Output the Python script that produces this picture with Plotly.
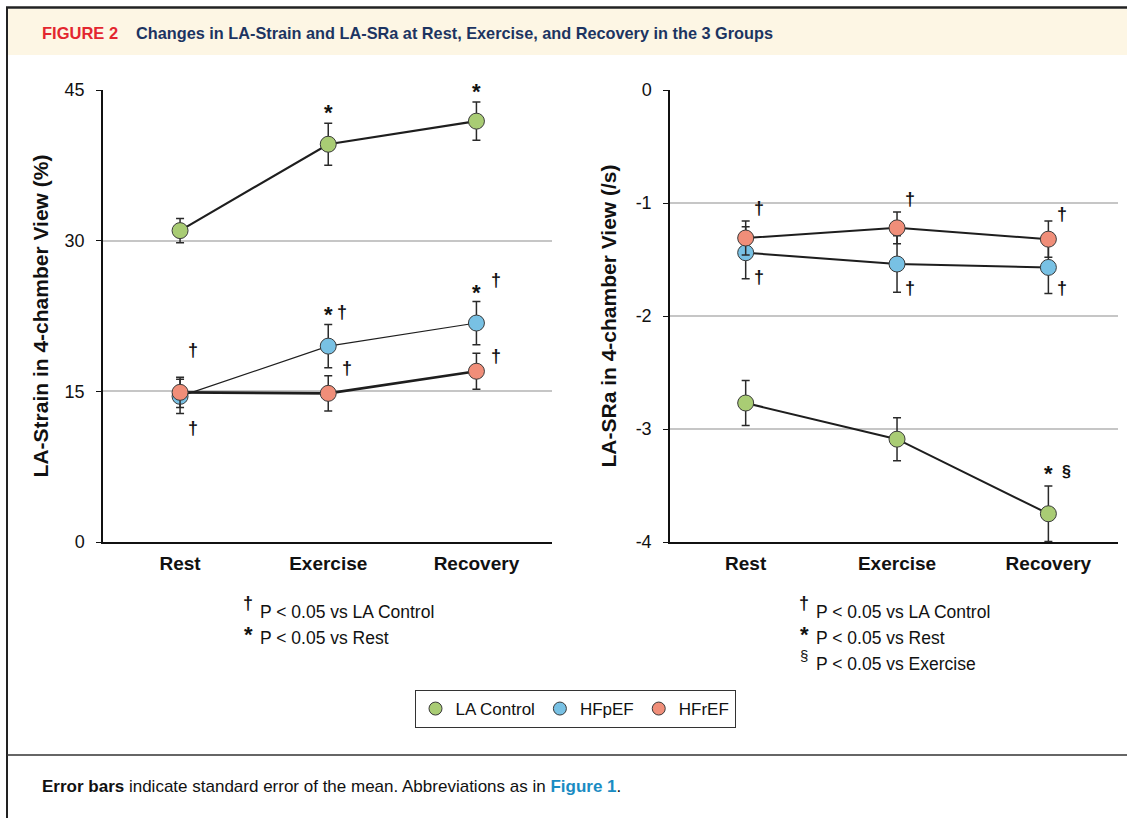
import plotly.graph_objects as go

W, H = 1127, 818

# ---------------- data ----------------
phases = ["Rest", "Exercise", "Recovery"]
groups = ["LA Control", "HFpEF", "HFrEF"]

la_strain_mean = [31.0, 39.6, 41.9]
la_strain_sem = [1.2, 2.1, 1.9]
hfpef_strain_mean = [14.5, 19.5, 21.8]
hfpef_strain_sem = [1.7, 2.15, 2.15]
hfref_strain_mean = [14.9, 14.8, 17.0]
hfref_strain_sem = [1.5, 1.75, 1.8]

la_sra_mean = [-2.77, -3.09, -3.75]
la_sra_sem = [0.20, 0.19, 0.245]
hfpef_sra_mean = [-1.44, -1.54, -1.57]
hfpef_sra_sem = [0.23, 0.25, 0.23]
hfref_sra_mean = [-1.31, -1.22, -1.32]
hfref_sra_sem = [0.15, 0.14, 0.16]

strain_ticks = [0, 15, 30, 45]
sra_ticks = [0, -1, -2, -3, -4]
sra_tick_text = ["0", "-1", "-2", "-3", "-4"]

# significance symbols: (panel, group, phase, symbol)
sig_symbols = [
    ("strain", "LA Control", "Exercise", "*"),
    ("strain", "LA Control", "Recovery", "*"),
    ("strain", "HFrEF", "Rest", "†"),
    ("strain", "HFpEF", "Rest", "†"),
    ("strain", "HFpEF", "Exercise", "*"),
    ("strain", "HFpEF", "Exercise", "†"),
    ("strain", "HFrEF", "Exercise", "†"),
    ("strain", "HFpEF", "Recovery", "*"),
    ("strain", "HFpEF", "Recovery", "†"),
    ("strain", "HFrEF", "Recovery", "†"),
    ("sra", "HFrEF", "Rest", "†"),
    ("sra", "HFpEF", "Rest", "†"),
    ("sra", "HFrEF", "Exercise", "†"),
    ("sra", "HFpEF", "Exercise", "†"),
    ("sra", "HFrEF", "Recovery", "†"),
    ("sra", "HFpEF", "Recovery", "†"),
    ("sra", "LA Control", "Recovery", "*"),
    ("sra", "LA Control", "Recovery", "§"),
]
# placement of each symbol: (anchor at error-bar end "top"/"bottom", xshift px, yshift px)
sig_place = [
    ("top", 0, 11), ("top", 0, 11), ("top", 13, 27), ("bottom", 13, -15),
    ("top", 0, 10), ("top", 14, 13), ("top", 19, 8), ("top", 0, 9),
    ("top", 20, 21), ("top", 20, -3),
    ("top", 13, 13), ("bottom", 13, 2), ("top", 13, 13), ("bottom", 13, 4),
    ("top", 14, 7), ("bottom", 14, 5), ("top", 0, 13), ("top", 18, 15),
]

footnotes_left = [("†", "P < 0.05 vs LA Control"), ("*", "P < 0.05 vs Rest")]
footnotes_right = [("†", "P < 0.05 vs LA Control"), ("*", "P < 0.05 vs Rest"),
                   ("§", "P < 0.05 vs Exercise")]

fig_label = "FIGURE 2"
fig_title = "Changes in LA-Strain and LA-SRa at Rest, Exercise, and Recovery in the 3 Groups"

# ---------------- styling ----------------
FONT = "Liberation Sans, Arial, Helvetica, sans-serif"
colors = {"LA Control": "#a9cc74", "HFpEF": "#78c1e4", "HFrEF": "#f08e79"}
line_w = {"strain": {"LA Control": 2.2, "HFpEF": 1.1, "HFrEF": 2.6},
          "sra": {"LA Control": 2.0, "HFpEF": 2.0, "HFrEF": 2.0}}

panels = {
    "strain": {"xa": "x", "ya": "y",
               "mean": {"LA Control": la_strain_mean, "HFpEF": hfpef_strain_mean, "HFrEF": hfref_strain_mean},
               "sem": {"LA Control": la_strain_sem, "HFpEF": hfpef_strain_sem, "HFrEF": hfref_strain_sem}},
    "sra": {"xa": "x2", "ya": "y2",
            "mean": {"LA Control": la_sra_mean, "HFpEF": hfpef_sra_mean, "HFrEF": hfref_sra_mean},
            "sem": {"LA Control": la_sra_sem, "HFpEF": hfpef_sra_sem, "HFrEF": hfref_sra_sem}},
}


def px(x):
    return x / W


def py(y):
    return 1 - y / H


fig = go.Figure()

for pname, p in panels.items():
    for g in groups:
        fig.add_trace(go.Scatter(
            x=phases, y=p["mean"][g], xaxis=p["xa"], yaxis=p["ya"],
            mode="lines+markers", name=g, showlegend=False,
            line=dict(color="#1e1e1e", width=line_w[pname][g]),
            marker=dict(size=16, color=colors[g], line=dict(color="#3a3a3a", width=1)),
            error_y=dict(type="data", array=p["sem"][g], visible=True,
                         color="#2a2a2a", thickness=1.5, width=4),
            cliponaxis=False,
        ))

# legend entries (markers only)
for g in groups:
    fig.add_trace(go.Scatter(
        x=[None], y=[None], mode="markers", name=g, showlegend=True,
        marker=dict(size=13, color=colors[g], line=dict(color="#3a3a3a", width=1)),
    ))

annotations = []
for (pname, g, ph, sym), (anchor, xs, ys) in zip(sig_symbols, sig_place):
    p = panels[pname]
    i = phases.index(ph)
    m, s = p["mean"][g][i], p["sem"][g][i]
    yv = m + s if anchor == "top" else m - s
    annotations.append(dict(
        x=ph, y=yv, xref=p["xa"], yref=p["ya"], text=f"<b>{sym}</b>", showarrow=False,
        xshift=xs, yshift=ys, xanchor="center", yanchor="middle",
        font=dict(family=FONT, size=22 if sym == "*" else (16 if sym == "§" else 18), color="#111"),
    ))

# footnotes
for (sym, txt), yy in zip(footnotes_left, [612, 638]):
    annotations.append(dict(x=px(248), y=py(yy - 9 if sym != "*" else yy - 4), xref="paper", yref="paper",
                            text=f"<b>{sym}</b>", showarrow=False, xanchor="center", yanchor="middle",
                            font=dict(family=FONT, size=18 if sym != "*" else 22, color="#111")))
    annotations.append(dict(x=px(258), y=py(yy), xref="paper", yref="paper", text=txt,
                            showarrow=False, xanchor="left", yanchor="middle",
                            font=dict(family=FONT, size=17.5, color="#111")))
for (sym, txt), yy in zip(footnotes_right, [612, 638, 664]):
    annotations.append(dict(x=px(804), y=py(yy - 9 if sym != "*" else yy - 4), xref="paper", yref="paper",
                            text=sym if sym == "§" else f"<b>{sym}</b>", showarrow=False,
                            xanchor="center", yanchor="middle",
                            font=dict(family=FONT, size={"†": 18, "*": 22, "§": 15}[sym], color="#111")))
    annotations.append(dict(x=px(814), y=py(yy), xref="paper", yref="paper", text=txt,
                            showarrow=False, xanchor="left", yanchor="middle",
                            font=dict(family=FONT, size=17.5, color="#111")))

# header and caption
annotations.append(dict(x=px(40), y=py(33), xref="paper", yref="paper",
                        text=f"<b>{fig_label}</b>", showarrow=False, xanchor="left", yanchor="middle",
                        font=dict(family=FONT, size=16.5, color="#e3262f")))
annotations.append(dict(x=px(134), y=py(33), xref="paper", yref="paper",
                        text=f"<b>{fig_title}</b>", showarrow=False, xanchor="left", yanchor="middle",
                        font=dict(family=FONT, size=16.3, color="#1c3461")))
annotations.append(dict(x=px(40), y=py(786), xref="paper", yref="paper",
                        text="<b>Error bars</b> indicate standard error of the mean. Abbreviations as in "
                             "<b><span style='color:#1a8cc3'>Figure 1</span></b>.",
                        showarrow=False, xanchor="left", yanchor="middle",
                        font=dict(family=FONT, size=17, color="#111")))

shapes = [
    dict(type="rect", xref="paper", yref="paper", x0=px(8), x1=1, y0=py(55), y1=py(9),
         fillcolor="#fdf6e4", line=dict(width=0), layer="below"),
    dict(type="line", xref="paper", yref="paper", x0=px(6), x1=1, y0=py(7.5), y1=py(7.5),
         line=dict(color="#222", width=2.5)),
    dict(type="line", xref="paper", yref="paper", x0=px(7), x1=px(7), y0=py(7), y1=0,
         line=dict(color="#222", width=2)),
    dict(type="line", xref="paper", yref="paper", x0=px(7), x1=1, y0=py(755), y1=py(755),
         line=dict(color="#333", width=1.5)),
]

axis_common_x = dict(type="category", showline=True, linecolor="#111", linewidth=2,
                     ticks="", showgrid=False, zeroline=False, ticklabelstandoff=3,
                     automargin=False,
                     tickfont=dict(family=FONT, size=19, color="#111", weight="bold"))
axis_common_y = dict(showline=True, linecolor="#111", linewidth=1.5, ticks="outside",
                     ticklen=5, tickcolor="#111", showgrid=True, gridcolor="#c6c6c6",
                     gridwidth=1.5, zeroline=False, ticklabelstandoff=8, automargin=False,
                     tickfont=dict(family=FONT, size=18, color="#111"))

dom_y = [py(542), py(90)]

fig.update_layout(
    width=W, height=H, margin=dict(l=0, r=0, t=0, b=0, pad=0, autoexpand=False),
    paper_bgcolor="white", plot_bgcolor="white",
    font=dict(family=FONT, color="#111"),
    xaxis=dict(domain=[px(103), px(552)], range=[-0.52, 2.51], anchor="y", **axis_common_x),
    yaxis=dict(domain=dom_y, range=[0, 45], tickvals=strain_ticks, anchor="x",
               title=dict(text="<b>LA-Strain in 4-chamber View (%)</b>", standoff=10,
                          font=dict(family=FONT, size=21, color="#111")),
               **axis_common_y),
    xaxis2=dict(domain=[px(670), px(1118)], range=[-0.5, 2.46], anchor="y2", **axis_common_x),
    yaxis2=dict(domain=dom_y, range=[-4, 0], tickvals=sra_ticks, ticktext=sra_tick_text,
                anchor="x2",
                title=dict(text="<b>LA-SRa in 4-chamber View (/s)</b>", standoff=13,
                           font=dict(family=FONT, size=21, color="#111")),
                **axis_common_y),
    legend=dict(orientation="h", x=px(575), xanchor="center", y=py(690), yanchor="top",
                bordercolor="#333", borderwidth=1, bgcolor="white",
                font=dict(family=FONT, size=17, color="#111"), itemwidth=30),
    annotations=annotations,
    shapes=shapes,
)

fig.write_html("out.html", config={"displayModeBar": False},
               post_script="document.body.style.margin='0px';document.body.style.overflow='hidden';")
